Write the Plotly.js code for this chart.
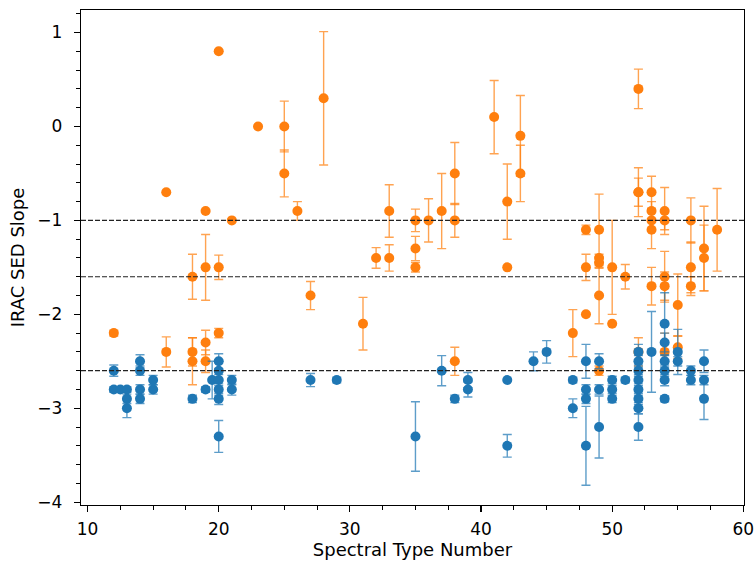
<!DOCTYPE html>
<html>
<head>
<meta charset="utf-8">
<script src="https://cdn.plot.ly/plotly-3.0.1.min.js"></script>
<style>html,body{margin:0;padding:0;background:#fff;}#chart{width:756px;height:565px;}</style>
</head>
<body>
<div id="chart"></div>
<script>
// Orange series (upper group)
const orangeX = [12,16,16,18,18,18,19,19,19,19,20,20,20,21,23,25,25,26,27,28,31,32,33,33,35,35,35,36,37,38,38,38,41,42,42,43,43,47,48,48,48,49,49,49,49,49,50,50,51,52,52,52,52,53,53,53,53,53,54,54,54,54,54,55,55,56,56,56,57,57,58];
const orangeY = [-2.2,-0.7,-2.4,-1.6,-2.4,-2.5,-0.9,-1.5,-2.3,-2.5,0.8,-1.5,-2.2,-1.0,0.0,0.0,-0.5,-0.9,-1.8,0.3,-2.1,-1.4,-0.9,-1.4,-1.0,-1.3,-1.5,-1.0,-0.9,-0.5,-1.0,-2.5,0.1,-0.8,-1.5,-0.1,-0.5,-2.2,-1.1,-1.5,-2.0,-1.1,-1.4,-1.45,-1.8,-2.6,-1.5,-2.1,-1.6,0.4,-0.7,-0.7,-2.4,-0.7,-0.9,-1.0,-1.1,-1.7,-0.9,-1.0,-1.6,-1.7,-2.4,-1.9,-2.35,-1.0,-1.5,-1.7,-1.3,-1.4,-1.1];
const orangeErr = [0.03,0.0,0.16,0.24,0.15,0.25,0.0,0.35,0.13,0.12,0.0,0.13,0.05,0.0,0.0,0.27,0.25,0.1,0.15,0.71,0.28,0.11,0.28,0.14,0.12,0.13,0.05,0.23,0.4,0.33,0.18,0.15,0.39,0.4,0.0,0.43,0.3,0.25,0.05,0.14,0.0,0.38,0.04,0.06,0.3,0.05,0.5,0.0,0.13,0.21,0.26,0.15,0.15,0.17,0.1,0.1,0.2,0.2,0.25,0.1,0.27,0.15,0.2,0.33,0.12,0.24,0.27,0.1,0.45,0.35,0.44];

// Blue series (lower group)
const blueX = [12,12,12.5,13,13,13,14,14,14,14,15,15,18,19,19.5,20,20,20,20,20,20,21,21,27,29,35,37,38,39,39,42,42,44,45,47,47,48,48,48,48,49,49,49,50,50,50,51,52,52,52,52,52,52,52,52,53,54,54,54,54,54,54,55,55,56,56,57,57,57];
const blueY = [-2.6,-2.8,-2.8,-2.8,-2.9,-3.0,-2.5,-2.6,-2.8,-2.9,-2.7,-2.8,-2.9,-2.8,-2.7,-2.5,-2.6,-2.7,-2.8,-2.9,-3.3,-2.7,-2.8,-2.7,-2.7,-3.3,-2.6,-2.9,-2.7,-2.8,-2.7,-3.4,-2.5,-2.4,-2.7,-3.0,-2.5,-2.8,-2.9,-3.4,-2.5,-2.8,-3.2,-2.7,-2.8,-2.9,-2.7,-2.4,-2.5,-2.6,-2.7,-2.8,-2.9,-3.0,-3.2,-2.4,-2.1,-2.3,-2.5,-2.6,-2.7,-2.9,-2.4,-2.5,-2.6,-2.7,-2.5,-2.7,-2.9];
const blueErr = [0.06,0.03,0.03,0.03,0.05,0.1,0.07,0.05,0.05,0.05,0.05,0.05,0.04,0.03,0.2,0.08,0.1,0.06,0.06,0.06,0.17,0.05,0.06,0.07,0.03,0.37,0.16,0.04,0.08,0.08,0.0,0.12,0.1,0.12,0.03,0.1,0.18,0.05,0.05,0.42,0.08,0.05,0.33,0.04,0.04,0.04,0.03,0.08,0.06,0.06,0.06,0.06,0.06,0.06,0.14,0.43,0.33,0.1,0.06,0.06,0.06,0.03,0.24,0.05,0.05,0.05,0.12,0.05,0.22];

const refLines = [-1.0, -1.6, -2.6];

const traces = [
  {
    x: orangeX, y: orangeY, type: 'scatter', mode: 'markers',
    marker: {color: '#ff7f0e', size: 10},
    error_y: {type: 'data', array: orangeErr, visible: true, color: 'rgba(255,127,14,0.72)', thickness: 1.4, width: 4.5},
    hoverinfo: 'x+y', showlegend: false
  },
  {
    x: blueX, y: blueY, type: 'scatter', mode: 'markers',
    marker: {color: '#1f77b4', size: 10},
    error_y: {type: 'data', array: blueErr, visible: true, color: 'rgba(31,119,180,0.72)', thickness: 1.4, width: 4.5},
    hoverinfo: 'x+y', showlegend: false
  }
];

const shapes = refLines.map(v => ({
  type: 'line', xref: 'paper', x0: 0, x1: 1, yref: 'y', y0: v, y1: v,
  line: {color: '#222', width: 1.2, dash: '5px,2px'}
}));

const fontFamily = 'DejaVu Sans';
const axisFont = {family: fontFamily, size: 17, color: '#000'};
const titleFont = {family: fontFamily, size: 18, color: '#000'};

const layout = {
  width: 756, height: 565,
  margin: {l: 81, r: 12, t: 10, b: 60},
  paper_bgcolor: '#fff', plot_bgcolor: '#fff',
  font: {family: fontFamily, size: 17, color: '#000'},
  showlegend: false,
  shapes: shapes,
  xaxis: {
    range: [9.5, 60.05], tickmode: 'linear', tick0: 10, dtick: 10,
    showgrid: false, zeroline: false,
    showline: true, linecolor: '#000', linewidth: 1.3, mirror: true,
    ticks: 'outside', ticklen: 6, tickwidth: 1.2, tickcolor: '#000',
    ticklabelstandoff: 2,
    ticklabeloverflow: 'allow',
    tickfont: axisFont,
    minor: {dtick: 2.5, tick0: 10, ticks: 'outside', ticklen: 3.5, tickwidth: 1, tickcolor: '#000', showgrid: false},
    title: {text: 'Spectral Type Number', font: titleFont, standoff: 4}
  },
  yaxis: {
    range: [-4.03, 1.24], tickmode: 'linear', tick0: 0, dtick: 1,
    showgrid: false, zeroline: false,
    showline: true, linecolor: '#000', linewidth: 1.3, mirror: true,
    ticks: 'outside', ticklen: 6, tickwidth: 1.2, tickcolor: '#000',
    ticklabelstandoff: 8,
    ticklabeloverflow: 'allow',
    tickfont: axisFont,
    minor: {dtick: 0.2, tick0: 0, ticks: 'outside', ticklen: 3.5, tickwidth: 1, tickcolor: '#000', showgrid: false},
    title: {text: 'IRAC SED Slope', font: titleFont, standoff: 8}
  }
};

Plotly.newPlot('chart', traces, layout, {displayModeBar: false, staticPlot: true});
</script>
</body>
</html>
